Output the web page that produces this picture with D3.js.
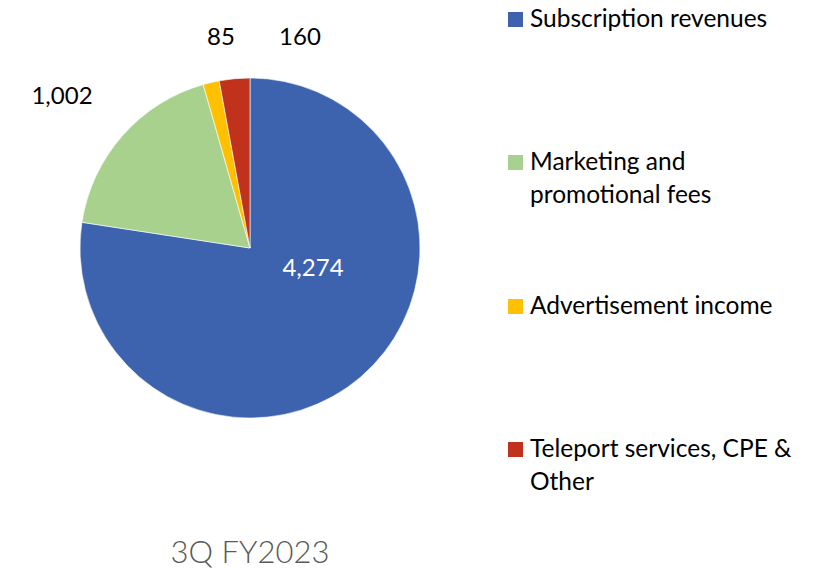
<!DOCTYPE html>
<html>
<head>
<meta charset="utf-8">
<script src="https://cdn.jsdelivr.net/npm/d3@7"></script>
<style>
  body { margin: 0; background: #fff; }
  text { font-family: Lato, "Open Sans", sans-serif; }
</style>
</head>
<body>
<svg id="chart" width="813" height="570"></svg>
<script>
const categories = ["Subscription revenues", "Marketing and promotional fees", "Advertisement income", "Teleport services, CPE & Other"];
const values = [4274, 1002, 85, 160];
const legendLines = [["Subscription revenues"], ["Marketing and", "promotional fees"], ["Advertisement income"], ["Teleport services, CPE &", "Other"]];
const colors = ["#3D63AE", "#A9D18E", "#FFC000", "#C0321C"];
const chartTitle = "3Q FY2023";

const svg = d3.select("#chart");

const cx = 250, cy = 248, radius = 170;

const pieData = d3.pie().sort(null).value(d => d)(values);
const arc = d3.arc().innerRadius(0).outerRadius(radius);

const g = svg.append("g").attr("transform", `translate(${cx},${cy})`);

g.selectAll(".slice")
  .data(pieData)
  .enter()
  .append("path")
  .attr("class", "slice")
  .attr("d", arc)
  .attr("fill", (d, i) => colors[i])
  .attr("stroke", "#fff")
  .attr("stroke-width", 0.6);

const fmt = d3.format(",");

// label offsets relative to pie centre (Excel best-fit placement)
const labelPos = [[63, 28], [-188, -144], [-29, -203], [50, -203]];

g.selectAll(".slice-label")
  .data(pieData)
  .enter()
  .append("text")
  .attr("class", "slice-label")
  .attr("text-anchor", "middle")
  .attr("font-size", 24)
  .attr("fill", (d, i) => i === 0 ? "#fff" : "#000")
  .attr("x", (d, i) => labelPos[i][0])
  .attr("y", (d, i) => labelPos[i][1])
  .text(d => fmt(d.value));

// legend
const legendY = [27, 170, 314, 457];
const legend = svg.append("g");

categories.forEach((c, i) => {
  const item = legend.append("g").attr("transform", `translate(508,${legendY[i]})`);
  item.append("rect")
    .attr("x", 0)
    .attr("y", -15)
    .attr("width", 15)
    .attr("height", 15)
    .attr("fill", colors[i]);
  const t = item.append("text")
    .attr("x", 22)
    .attr("y", 0)
    .attr("font-size", 24.5)
    .attr("fill", "#000");
  legendLines[i].forEach((line, j) => {
    t.append("tspan").attr("x", 22).attr("dy", j === 0 ? 0 : 33).text(line);
  });
});

svg.append("text")
  .attr("x", cx)
  .attr("y", 563)
  .attr("text-anchor", "middle")
  .attr("font-size", 31)
  .attr("font-weight", 300)
  .attr("fill", "#595959")
  .text(chartTitle);
</script>
</body>
</html>
